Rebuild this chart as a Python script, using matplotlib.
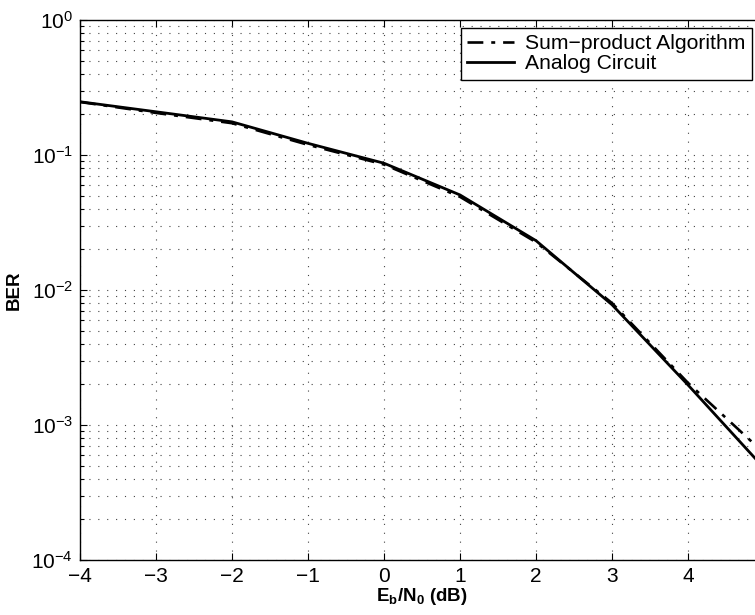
import matplotlib
matplotlib.use("Agg")
import matplotlib.pyplot as plt
from matplotlib.ticker import LogLocator, NullFormatter, FixedLocator

plt.rcParams['font.family'] = ['Liberation Sans', 'DejaVu Sans']
plt.rcParams['mathtext.fontset'] = 'custom'
plt.rcParams['mathtext.rm'] = 'Liberation Sans'
plt.rcParams['mathtext.bf'] = 'Liberation Sans:bold'
plt.rcParams['mathtext.it'] = 'Liberation Sans:italic'

# Eb/N0 in dB
ebn0 = [-4, -3, -2, -1, 0, 1, 2, 3, 4, 5]
# Bit error rate of the sum-product decoder
ber_sum_product = [0.247, 0.205, 0.172, 0.119, 0.085, 0.049, 0.0226, 0.0080, 0.00205, 0.00062]
# Bit error rate of the analog decoder circuit
ber_analog = [0.248, 0.209, 0.176, 0.122, 0.0869, 0.0506, 0.0232, 0.00778, 0.00198, 0.00048]

x_ticks = [-4, -3, -2, -1, 0, 1, 2, 3, 4, 5]
x_tick_labels = ['\u22124', '\u22123', '\u22122', '\u22121', '0', '1', '2', '3', '4', '']

W, H = 755, 615
fig = plt.figure(figsize=(W / 100, H / 100), dpi=100)
ax = fig.add_axes([80 / W, (H - 560) / H, (764 - 80) / W, 540 / H])

ax.plot(ebn0, ber_sum_product, color='black', lw=1.9, dashes=(6, 3, 1.5, 3),
        label='Sum\u2212product Algorithm')
ax.plot(ebn0, ber_analog, color='black', lw=2.0, label='Analog Circuit')

ax.set_yscale('log')
ax.set_xlim(-4, 5)
ax.set_ylim(1e-4, 1)
ax.xaxis.set_major_locator(FixedLocator(x_ticks))
ax.set_xticklabels(x_tick_labels)
ax.yaxis.set_major_locator(LogLocator(base=10, numticks=10))
ax.yaxis.set_minor_locator(LogLocator(base=10, subs=range(2, 10), numticks=20))
ax.yaxis.set_minor_formatter(NullFormatter())

grid_style = dict(color='#444444', linestyle=(0, (1, 7)), lw=0.8)
ax.grid(True, which='major', axis='both', **grid_style)
ax.grid(True, which='minor', axis='y', **grid_style)

ax.tick_params(which='both', direction='in', top=True, right=True, labelsize=15, pad=5)
ax.tick_params(which='major', length=5, width=0.8)
ax.tick_params(which='minor', length=3, width=0.8)
for s in ax.spines.values():
    s.set_linewidth(1.0)

ax.set_xlabel(r'$\mathbf{E_b/N_0}$ (dB)', fontsize=13.5, fontweight='bold', labelpad=0)
ax.set_ylabel('BER', fontsize=13.5, fontweight='bold', labelpad=6)

leg = ax.legend(loc='upper left', bbox_to_anchor=(461 / W, 1 - 28 / H),
                bbox_transform=fig.transFigure, fontsize=15.2, frameon=True,
                fancybox=False, edgecolor='black', framealpha=1,
                handlelength=2.2, handletextpad=0.55, borderpad=0.3,
                labelspacing=0.05, borderaxespad=0)
leg.get_frame().set_linewidth(1.0)

fig.savefig('out.png', dpi=100)
